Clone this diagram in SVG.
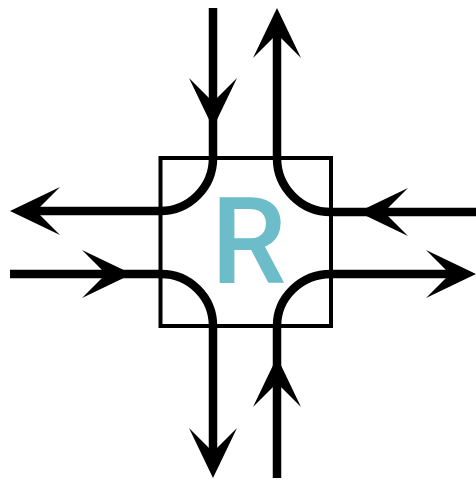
<svg xmlns="http://www.w3.org/2000/svg" width="476" height="480" viewBox="0 0 476 480">
  <style>
    .flow { fill: none; stroke: #000; stroke-width: 8.5; stroke-linejoin: round; }
    .head { fill: #000; }
    .box { fill: #fff; stroke: #000; stroke-width: 4; }
    .label { font-family: Roboto, "Liberation Sans", sans-serif; font-size: 120px; font-weight: 500; fill: #6cbdc9; }
  </style>
  <defs>
    <path id="ah" d="M0 0 L-50 -24 L-26 0 L-50 24 Z"/>
  </defs>
  <rect width="476" height="480" fill="#fff"/>
  <g id="node-R">
    <rect class="box" x="160.5" y="158" width="170.5" height="168"/>
    <text class="label" x="211" y="283">R</text>
  </g>
  <g id="connectors">
    <path class="flow" d="M213 8 V158 A53 53 0 0 1 160 211 H36"/>
    <path class="flow" d="M277 34 V158 A54 54 0 0 0 331 212 H476"/>
    <path class="flow" d="M10 274 H161 A52 52 0 0 1 213 326 V452"/>
    <path class="flow" d="M277 478 V326 A54 52 0 0 1 331 274 H450"/>
    <use class="head" href="#ah" transform="translate(10 211) rotate(180)"/>
    <use class="head" href="#ah" transform="translate(213 128) rotate(90)"/>
    <use class="head" href="#ah" transform="translate(277 8) rotate(-90)"/>
    <use class="head" href="#ah" transform="translate(358 212) rotate(180)"/>
    <use class="head" href="#ah" transform="translate(132 274)"/>
    <use class="head" href="#ah" transform="translate(213 478) rotate(90)"/>
    <use class="head" href="#ah" transform="translate(277 357) rotate(-90)"/>
    <use class="head" href="#ah" transform="translate(476 274)"/>
  </g>
</svg>
